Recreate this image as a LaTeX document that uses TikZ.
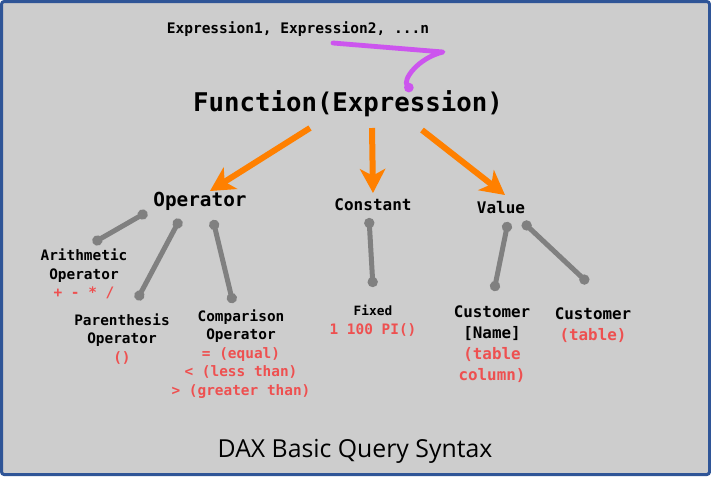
\documentclass[tikz,border=0pt]{standalone}
\usepackage{fontspec}
\setmainfont{Open Sans}
\setmonofont{DejaVu Sans Mono}
\usepackage{xcolor}
\usepackage{tikz}
\usetikzlibrary{arrows.meta,calc}

\definecolor{daxbg}{RGB}{205,205,205}
\definecolor{daxframe}{RGB}{47,85,151}
\definecolor{daxorange}{RGB}{255,128,0}
\definecolor{daxviolet}{RGB}{204,85,238}
\definecolor{daxred}{RGB}{238,80,80}
\definecolor{daxgray}{RGB}{128,128,128}
\newcommand{\redtxt}[1]{\textcolor{daxred}{#1}}

\begin{document}
\begin{tikzpicture}[x=0.75pt, y=-0.75pt,
    part/.style={font=\ttfamily\bfseries\fontsize{12}{14}\selectfont, inner sep=1pt},
    leaf/.style={align=center, inner sep=1pt, font=\ttfamily\bfseries\fontsize{10.8}{13.9}\selectfont},
    pick/.style={daxorange, line width=4.5pt, -{Stealth[length=18pt, width=19pt, inset=5pt]}},
    link/.style={daxgray, line width=3.75pt, {Circle[length=7.5pt]}-{Circle[length=7.5pt]}}]
    \useasboundingbox (0,0) rectangle (711,476);
    \draw[daxframe, fill=daxbg, line width=2.25pt, rounded corners=2pt] (1.5,1.5) rectangle (709.5,474.5);

    % Arguments and the function
    \node[font=\ttfamily\bfseries\fontsize{10.9}{13}\selectfont] (args) at (298,29) {Expression1, Expression2, ...n};
    \node[font=\ttfamily\bfseries\fontsize{19.3}{23}\selectfont] (func) at (348,104) {Function(Expression)};
    \draw[daxviolet, line width=3.6pt, line cap=round, line join=round, -{Circle[length=7pt]}]
        ($(args)+(35,14)$) -- ++(110,9) .. controls +(-25,6) and +(-10,-11) .. ($(func)+(64,-13)$);

    % Three kinds of argument
    \node[part, font=\ttfamily\bfseries\fontsize{14.5}{17}\selectfont] (op) at (200,201) {Operator};
    \node[part] (ct) at (373,205) {Constant};
    \node[part] (va) at (501,208) {Value};
    \draw[pick] ($(func)+(-38,24)$) -- ($(op)+(10,-10)$);
    \draw[pick] ($(func)+(24,24)$) -- ($(ct)+(0,-12)$);
    \draw[pick] ($(func)+(74,26)$) -- ($(va)+(4,-13)$);

    % Operators
    \node[leaf] (arith) at (84,274) {Arithmetic\\Operator\\\redtxt{+ - * /}};
    \node[leaf] (paren) at (122,339) {Parenthesis\\Operator\\\redtxt{()}};
    \node[leaf] (comp) at (241,354) {Comparison\\Operator\\\redtxt{= (equal)}\\\redtxt{< (less than)}\\\redtxt{> (greater than)}};
    \draw[link] ($(op)+(-53,11)$) -- ($(arith)+(9,-31)$);
    \draw[link] ($(op)+(-20,18)$) -- ($(paren)+(15,-39)$);
    \draw[link] ($(op)+(13,19)$) -- ($(comp)+(-8,-51)$);

    % Constants and values
    \node[leaf] (fixed) at (373,321) {{\fontsize{9.6}{13.5}\selectfont Fixed}\\\redtxt{1 100 PI()}};
    \node[leaf, font=\ttfamily\bfseries\fontsize{11.9}{15.75}\selectfont] (colname) at (492,344) {Customer\\{[Name]}\\\redtxt{(table}\\\redtxt{column)}};
    \node[leaf, font=\ttfamily\bfseries\fontsize{11.9}{15.75}\selectfont] (table) at (593,325) {Customer\\\redtxt{(table)}};
    \draw[link] ($(ct)+(-4,13)$) -- ($(fixed)+(0,-34)$);
    \draw[link] ($(va)+(7,14)$) -- ($(colname)+(2,-53)$);
    \draw[link] ($(va)+(22,14)$) -- ($(table)+(-5,-42)$);

    \node[font=\fontsize{18.6}{22}\selectfont, anchor=base] (title) at (355,457) {DAX Basic Query Syntax};
\end{tikzpicture}
\end{document}
